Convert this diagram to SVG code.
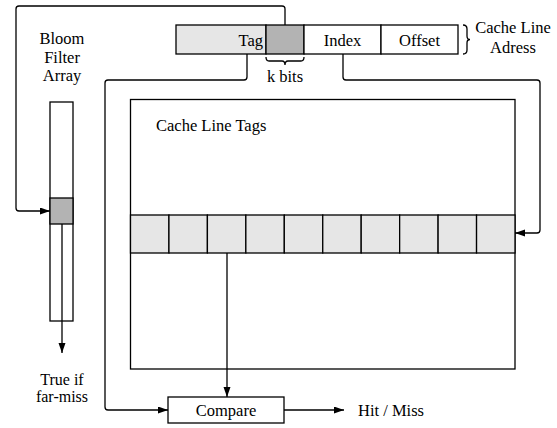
<svg xmlns="http://www.w3.org/2000/svg" width="557" height="428" viewBox="0 0 557 428" font-family="'Liberation Serif', 'Times New Roman', serif">
  <style>
    .box { fill: #ffffff; stroke: #000000; stroke-width: 1.3; }
    .light { fill: #e6e6e6; stroke: #000000; stroke-width: 1.3; }
    .dark { fill: #b3b3b3; stroke: #000000; stroke-width: 1.3; }
    .wire { fill: none; stroke: #000000; stroke-width: 1.3; }
    text { font-family: "Liberation Serif", "Times New Roman", serif; font-size: 16.5px; fill: #000000; }
    .mid { text-anchor: middle; }
    .small { font-size: 16px; }
  </style>
  <defs>
    <marker id="arrow" markerUnits="userSpaceOnUse" markerWidth="11" markerHeight="8" refX="10" refY="3.5" orient="auto">
      <path d="M0,0 L10,3.5 L0,7 z" fill="#000000"/>
    </marker>
  </defs>

  <!-- Cache line address fields -->
  <g id="address">
    <rect class="light" x="176" y="25" width="90" height="29"/>
    <rect class="dark" x="266" y="25" width="38" height="29"/>
    <rect class="box" x="304" y="25" width="77" height="29"/>
    <rect class="box" x="381" y="25" width="77" height="29"/>
    <text x="263" y="46" text-anchor="end">Tag</text>
    <text class="mid" x="342.5" y="46">Index</text>
    <text class="mid" x="419.5" y="46">Offset</text>
    <path class="wire" d="M463,25 Q467,25 467,29 V36 Q467,39.5 470,39.5 Q467,39.5 467,43 V50 Q467,54 463,54"/>
    <text class="mid" x="513" y="33">Cache Line</text>
    <text class="mid" x="513" y="53">Adress</text>
    <path class="wire" d="M266,57 Q266,61 269,61 H282 Q285,61 285,65 Q285,61 288,61 H301 Q304,61 304,57"/>
    <text class="mid" x="285" y="82">k bits</text>
  </g>

  <!-- Bloom filter array -->
  <g id="bloom">
    <text class="mid" x="62" y="44">Bloom</text>
    <text class="mid" x="62" y="63">Filter</text>
    <text class="mid" x="62" y="81">Array</text>
    <rect class="box" x="50" y="102" width="23" height="219"/>
    <rect class="dark" x="50" y="198" width="23" height="26"/>
    <text class="mid small" x="62" y="385">True if</text>
    <text class="mid small" x="62" y="402">far-miss</text>
  </g>

  <!-- Cache line tag store -->
  <g id="tags">
    <rect class="box" x="130.5" y="99.5" width="384.5" height="269.5"/>
    <text x="156" y="131">Cache Line Tags</text>
    <rect class="light" x="130.5" y="215" width="38.45" height="38"/>
    <rect class="light" x="168.95" y="215" width="38.45" height="38"/>
    <rect class="light" x="207.4" y="215" width="38.45" height="38"/>
    <rect class="light" x="245.85" y="215" width="38.45" height="38"/>
    <rect class="light" x="284.3" y="215" width="38.45" height="38"/>
    <rect class="light" x="322.75" y="215" width="38.45" height="38"/>
    <rect class="light" x="361.2" y="215" width="38.45" height="38"/>
    <rect class="light" x="399.65" y="215" width="38.45" height="38"/>
    <rect class="light" x="438.1" y="215" width="38.45" height="38"/>
    <rect class="light" x="476.55" y="215" width="38.45" height="38"/>
  </g>

  <!-- Comparator -->
  <g id="compare">
    <rect class="box" x="168" y="397" width="116" height="26"/>
    <text class="mid" x="226" y="416">Compare</text>
    <text x="358" y="416">Hit / Miss</text>
  </g>

  <!-- Connectors -->
  <g id="connectors">
    <path class="wire" marker-end="url(#arrow)" d="M285,25 V9 Q285,6 282,6 H19 Q16,6 16,9 V208 Q16,211 19,211 H50"/>
    <path class="wire" marker-end="url(#arrow)" d="M62,224 V353"/>
    <path class="wire" marker-end="url(#arrow)" d="M247,54 V77 Q247,80 244,80 H108 Q105,80 105,83 V407 Q105,410 108,410 H168"/>
    <path class="wire" marker-end="url(#arrow)" d="M343,54 V77 Q343,80 346,80 H537 Q540,80 540,83 V230 Q540,233 537,233 H515"/>
    <path class="wire" marker-end="url(#arrow)" d="M227,253 V397"/>
    <path class="wire" marker-end="url(#arrow)" d="M284,410 H344"/>
  </g>
</svg>
